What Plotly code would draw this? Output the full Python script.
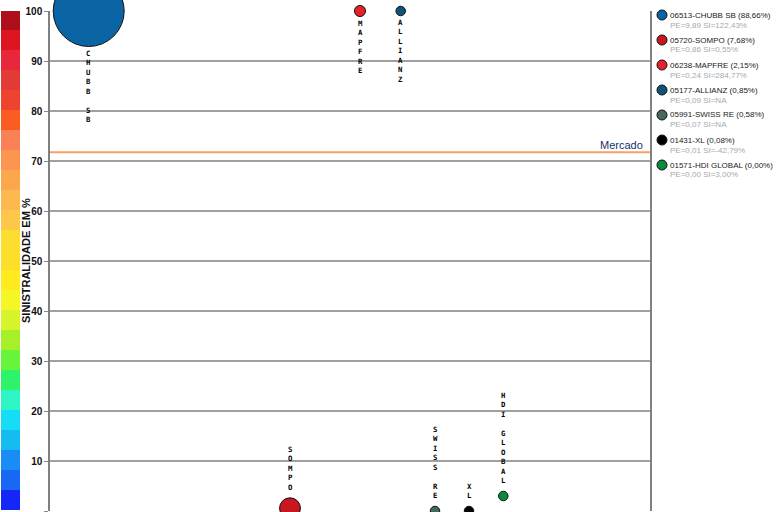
import plotly.graph_objects as go

# ---- data ----
codes = ["06513", "05720", "06238", "05177", "05991", "01431", "01571"]
names = ["CHUBB SB", "SOMPO", "MAPFRE", "ALLIANZ", "SWISS RE", "XL", "HDI GLOBAL"]
share = [88.66, 7.68, 2.15, 0.85, 0.58, 0.08, 0.00]          # PE share (bubble size)
pe_txt = ["9,89", "0,86", "0,24", "0,09", "0,07", "0,01", "0,00"]
si_txt = ["122,43%", "0,55%", "284,77%", "NA", "NA", "-42,79%", "3,00%"]
x_pos = [38.7, 240, 310, 350.7, 385, 419, 453.3]              # horizontal position
y_val = [100, 0.55, 100, 100, 0, 0, 3.0]                      # sinistralidade plotted (capped 0-100)
colors = ["#0A64A4", "#C8171E", "#E8202A", "#0F5478", "#456860", "#000000", "#0A8A3C"]
mercado = 71.75

scale_colors = ["#1427F8", "#1868F5", "#1A8CF5", "#14BCF0", "#15DDF5", "#2EF5C4",
                "#2EF26A", "#66F53A", "#A6F02A", "#D5F52A", "#F6F626", "#FFE91F",
                "#FDDF2A", "#FDDD30", "#FDC74A", "#FDB850", "#FCA74C", "#FB9550",
                "#FA8055", "#FA5C22", "#EE432E", "#E33A35", "#E8283A", "#DE1421",
                "#AD0F1B"]
y_ticks = list(range(0, 101, 10))

# ---- layout constants ----
W, H = 782, 512
ML, MR, MT, MB = 50, 132, 11, 1
PW, PH = W - ML - MR, H - MT - MB
max_diam = 71
min_diam = 9.5
sizeref = 2 * max(share) / max_diam ** 2
LBL_SIZE = 7.3          # 1.3 * size = spacing between stacked letters

def px_x(p):
    return (p - ML) / PW

def px_y(p):
    return (H - MB - p) / PH

fig = go.Figure()
fig.add_trace(go.Scatter(
    x=x_pos, y=y_val, mode="markers",
    marker=dict(size=[max(s, 1e-4) for s in share], sizemode="area", sizeref=sizeref,
                sizemin=min_diam / 2, color=colors, opacity=1, line=dict(color="#111", width=1)),
    cliponaxis=False, showlegend=False, hoverinfo="skip"))

shapes = []
annotations = []

# colour scale on the left
step = 100 / len(scale_colors)
for i, c in enumerate(scale_colors):
    shapes.append(dict(type="rect", xref="paper", yref="y",
                       x0=px_x(1), x1=px_x(20), y0=i * step + 0.2, y1=(i + 1) * step + 0.2,
                       fillcolor=c, line=dict(width=0), layer="above"))

# market line
shapes.append(dict(type="line", xref="paper", yref="y", x0=0, x1=1, y0=mercado, y1=mercado,
                   line=dict(color="#F7A064", width=2), layer="above"))
annotations.append(dict(text="Mercado", xref="paper", yref="y", x=1, y=mercado,
                        xanchor="right", yanchor="bottom", xshift=-5, yshift=-1, showarrow=False,
                        font=dict(family="Liberation Sans, Arial", size=11, color="#14306A")))

# vertical stacked labels
half_line = 1.3 * LBL_SIZE / 2
for xi, yi, s, nm in zip(x_pos, y_val, share, names):
    r = max((max(s, 1e-4) / 2 / sizeref) ** 0.5, min_diam / 2)
    txt = "<br>".join(ch if ch != " " else "\u00a0" for ch in nm)
    if yi > 50:
        ya, shift = "top", -(r + 6 - half_line)
    else:
        ya, shift = "bottom", r + 10 - half_line
    annotations.append(dict(text=txt, x=xi, y=yi, xref="x", yref="y", showarrow=False,
                            xanchor="center", yanchor=ya, yshift=shift, borderpad=0,
                            align="center",
                            font=dict(family="DejaVu Sans Mono", size=LBL_SIZE, color="#000",
                                      weight="bold")))

# custom legend
for i in range(len(names)):
    cy = 15 + 25 * i
    shapes.append(dict(type="circle", xref="paper", yref="paper",
                       xsizemode="pixel", ysizemode="pixel",
                       xanchor=px_x(662), yanchor=px_y(cy), x0=-5, x1=5, y0=-5, y1=5,
                       fillcolor=colors[i], line=dict(color="#111", width=1)))
    annotations.append(dict(text=f"{codes[i]}-{names[i]} ({share[i]:.2f}%)".replace(".", ","),
                            xref="paper", yref="paper", x=px_x(668), y=px_y(cy),
                            xanchor="left", yanchor="middle", showarrow=False,
                            font=dict(family="Liberation Sans, Arial", size=8, color="#222")))
    annotations.append(dict(text=f"PE={pe_txt[i]} SI={si_txt[i]}",
                            xref="paper", yref="paper", x=px_x(668), y=px_y(cy + 10),
                            xanchor="left", yanchor="middle", showarrow=False,
                            font=dict(family="Liberation Sans, Arial", size=8, color="#A2AAB2")))

# y title
annotations.append(dict(text="<b>SINISTRALIDADE EM %</b>", xref="paper", yref="paper",
                        x=px_x(26), y=px_y(261), textangle=-90, showarrow=False,
                        xanchor="center", yanchor="middle",
                        font=dict(family="Liberation Sans, Arial", size=11, color="#111")))

fig.update_layout(
    width=W, height=H, margin=dict(l=ML, r=MR, t=MT, b=MB),
    paper_bgcolor="white", plot_bgcolor="white",
    shapes=shapes, annotations=annotations, showlegend=False,
    xaxis=dict(range=[0, PW], visible=False, showgrid=False, zeroline=False),
    yaxis=dict(range=[0, 100], tickvals=y_ticks, ticktext=[f"<b>{v}</b>" for v in y_ticks],
               tickfont=dict(family="Liberation Sans, Arial", size=10, color="#111"),
               ticks="outside", ticklen=4, tickcolor="#888",
               showgrid=True, gridcolor="#A0A0A0", gridwidth=1.5,
               zeroline=False, showline=True, linecolor="#808080", linewidth=1.5, mirror=True),
)

fig.write_html("out.html", config={"displayModeBar": False},
               post_script="document.body.style.margin='0';document.body.style.overflow='hidden';")
